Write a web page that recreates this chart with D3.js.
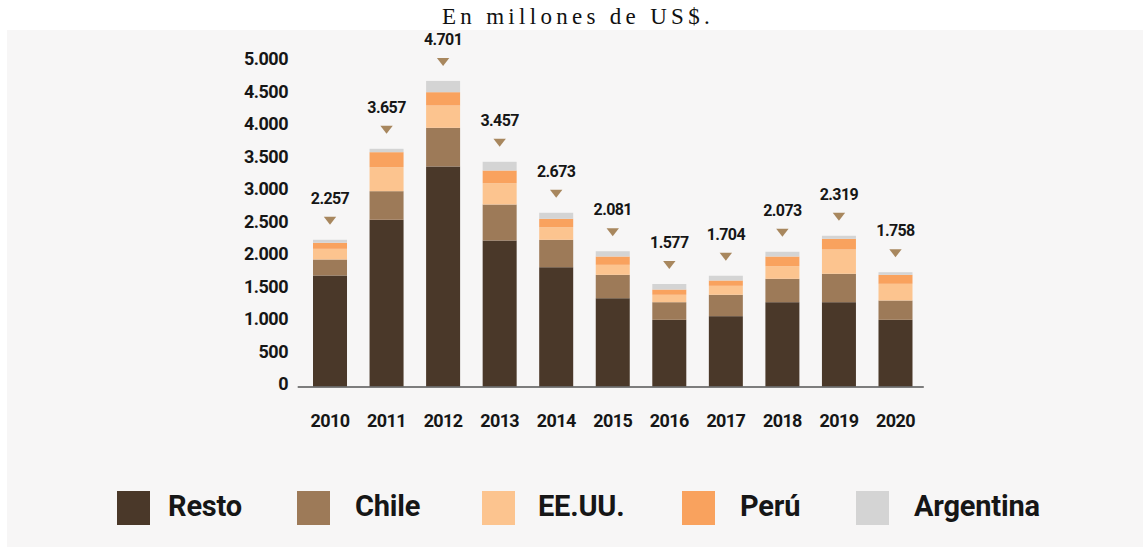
<!DOCTYPE html>
<html>
<head>
<meta charset="utf-8">
<script src="https://cdn.jsdelivr.net/npm/d3@7"></script>
<style>
  html, body { margin: 0; padding: 0; background: #ffffff; }
  svg { display: block; }
</style>
</head>
<body>
<svg id="chart" width="1145" height="547"></svg>
<script>
// Exportaciones por destino, en millones de US$
const years = ["2010","2011","2012","2013","2014","2015","2016","2017","2018","2019","2020"];
const totals = [2257, 3657, 4701, 3457, 2673, 2081, 1577, 1704, 2073, 2319, 1758];
const totalLabels = ["2.257","3.657","4.701","3.457","2.673","2.081","1.577","1.704","2.073","2.319","1.758"];
const resto     = [1708, 2565, 3385, 2246, 1835, 1358, 1026, 1082, 1297, 1297, 1026];
const chile     = [ 246,  440,  595,  554,  422,  360,  271,  329,  360,  437,  297];
const eeuu      = [ 164,  369,  343,  328,  194,  154,  114,  138,  194,  374,  257];
const peru      = [  93,  231,  205,  195,  129,  128,   81,   82,  149,  164,  138];
const argentina = [  46,   52,  173,  134,   93,   81,   85,   73,   73,   47,   40];
const seriesNames = ["Resto", "Chile", "EE.UU.", "Perú", "Argentina"];
const seriesColors = ["#4a3829", "#9d7a58", "#fcc48f", "#f9a25e", "#d4d4d4"];
const yTicks = [0, 500, 1000, 1500, 2000, 2500, 3000, 3500, 4000, 4500, 5000];
const yTickLabels = ["0","500","1.000","1.500","2.000","2.500","3.000","3.500","4.000","4.500","5.000"];

const svg = d3.select("#chart");
const boldFont = "Roboto, 'DejaVu Sans', sans-serif";

// Panel background
svg.append("rect")
  .attr("x", 7).attr("y", 30).attr("width", 1136).attr("height", 517)
  .attr("fill", "#f7f6f6");

// Title
svg.append("text")
  .attr("x", 578).attr("y", 24)
  .attr("text-anchor", "middle")
  .attr("font-family", "'Liberation Serif', 'Times New Roman', serif")
  .attr("font-size", 23)
  .attr("letter-spacing", "4.3px")
  .attr("fill", "#111")
  .text("En millones de US$.");

// Scales
const x = d3.scaleBand()
  .domain(years)
  .range([301.7, 923.8])
  .paddingInner(0.3988)
  .paddingOuter(0.2);

const y = d3.scaleLinear()
  .domain([0, 5000])
  .range([386.5, 61.5]);

// Stacked data
const rows = years.map((yr, i) => ({
  year: yr,
  "Resto": resto[i],
  "Chile": chile[i],
  "EE.UU.": eeuu[i],
  "Perú": peru[i],
  "Argentina": argentina[i]
}));
const stack = d3.stack().keys(seriesNames)(rows);
const color = d3.scaleOrdinal().domain(seriesNames).range(seriesColors);

svg.append("g")
  .selectAll("g")
  .data(stack)
  .join("g")
  .attr("fill", d => color(d.key))
  .selectAll("rect")
  .data(d => d)
  .join("rect")
  .attr("x", d => x(d.data.year))
  .attr("y", d => y(d[1]))
  .attr("width", x.bandwidth())
  .attr("height", d => y(d[0]) - y(d[1]));

// Baseline
svg.append("line")
  .attr("x1", x.range()[0] - 4).attr("x2", x.range()[1])
  .attr("y1", 387).attr("y2", 387)
  .attr("stroke", "#555").attr("stroke-width", 1.5);

// Y tick labels
svg.append("g")
  .selectAll("text")
  .data(yTicks)
  .join("text")
  .attr("x", 288)
  .attr("y", d => y(d) + 3.5)
  .attr("text-anchor", "end")
  .attr("font-family", boldFont)
  .attr("font-weight", 700)
  .attr("font-size", 18)
  .attr("letter-spacing", "-0.5px")
  .attr("fill", "#161616")
  .text((d, i) => yTickLabels[i]);

// Year labels
svg.append("g")
  .selectAll("text")
  .data(years)
  .join("text")
  .attr("x", d => x(d) + x.bandwidth() / 2)
  .attr("y", 427)
  .attr("text-anchor", "middle")
  .attr("font-family", boldFont)
  .attr("font-weight", 700)
  .attr("font-size", 18)
  .attr("letter-spacing", "-0.6px")
  .attr("fill", "#161616")
  .text(d => d);

// Total markers: triangle + value
const totalsG = svg.append("g");
years.forEach((yr, i) => {
  const cx = x(yr) + x.bandwidth() / 2;
  const top = y(totals[i]);
  totalsG.append("path")
    .attr("d", `M${cx - 6.2},${top - 23} L${cx + 6.2},${top - 23} L${cx},${top - 15} Z`)
    .attr("fill", "#a8875e");
  totalsG.append("text")
    .attr("x", cx)
    .attr("y", top - 36)
    .attr("text-anchor", "middle")
    .attr("font-family", boldFont)
    .attr("font-weight", 700)
    .attr("font-size", 16)
    .attr("letter-spacing", "-0.6px")
    .attr("fill", "#161616")
    .text(totalLabels[i]);
});

// Legend
const legendSquareX = [117, 297, 482, 682, 856];
const legendTextX = [168, 355, 538, 740, 914];
const legend = svg.append("g");
seriesNames.forEach((name, i) => {
  legend.append("rect")
    .attr("x", legendSquareX[i]).attr("y", 491)
    .attr("width", 33).attr("height", 34)
    .attr("fill", seriesColors[i]);
  legend.append("text")
    .attr("x", legendTextX[i]).attr("y", 516)
    .attr("font-family", boldFont)
    .attr("font-weight", 700)
    .attr("font-size", 29)
    .attr("letter-spacing", "-0.2px")
    .attr("fill", "#161616")
    .text(name);
});
</script>
</body>
</html>
